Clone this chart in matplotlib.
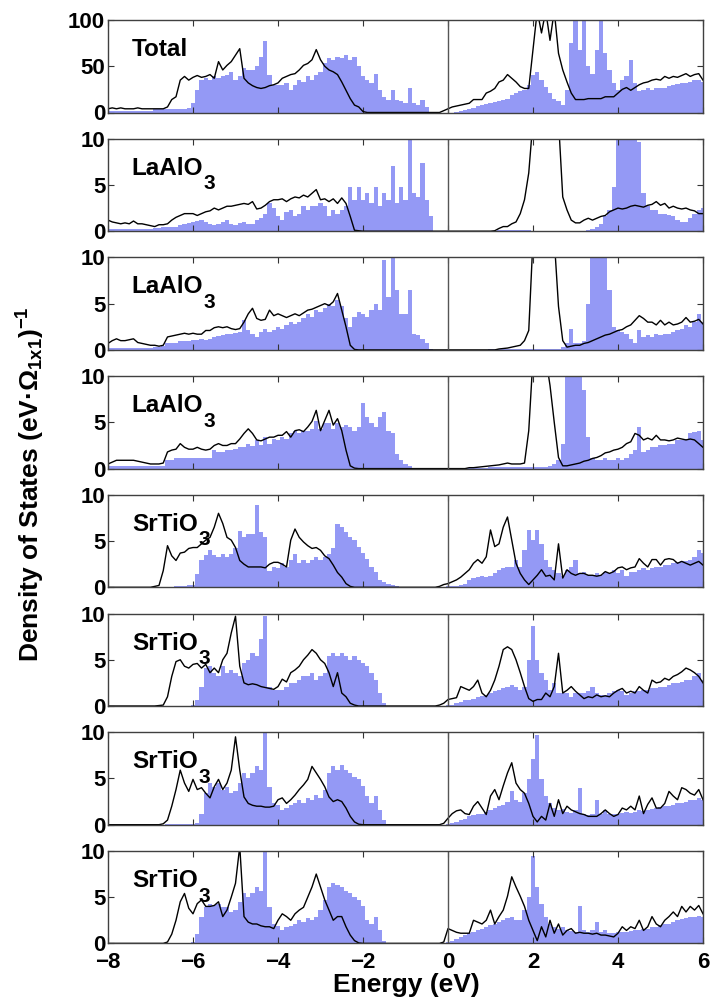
import matplotlib
matplotlib.use("Agg")
import matplotlib.pyplot as plt
import numpy as np

plt.rcParams['font.family'] = ['Liberation Sans', 'DejaVu Sans']
plt.rcParams['font.weight'] = 'bold'
plt.rcParams['mathtext.fontset'] = 'custom'
plt.rcParams['mathtext.rm'] = 'Liberation Sans:bold'
plt.rcParams['mathtext.it'] = 'Liberation Sans:bold'
plt.rcParams['mathtext.bf'] = 'Liberation Sans:bold'
plt.rcParams['ytick.alignment'] = 'center_baseline'

# Energy grid (eV), 0.1 eV spacing from -8 to 6
energy = np.round(np.arange(-8.0, 6.0001, 0.1), 2)

# ---------------- Panel 1: Total ----------------
total_line = [
    4, 5, 4, 5, 4, 4, 4, 5, 4, 4,
    4, 4, 4, 4, 6, 14, 17, 35, 39, 35,
    38, 40, 38, 39, 41, 37, 55, 46, 51, 55,
    62, 69, 37, 32, 29, 27, 26, 27, 29, 30,
    32, 37, 39, 41, 42, 46, 51, 53, 57, 68,
    57, 50, 46, 44, 41, 33, 24, 15, 8, 6,
    1, 0, 0, 0, 0, 0, 0, 0, 0, 0,
    0, 0, 0, 0, 0, 0, 0, 0, 0, 2,
    4, 6, 7, 8, 9, 10, 14, 14, 14, 21,
    23, 26, 33, 35, 41, 37, 33, 28, 26, 26,
    68, 110, 86, 110, 78, 110, 64, 46, 33, 21,
    14, 14, 14, 15, 15, 15, 15, 17, 17, 17,
    21, 25, 27, 24, 27, 30, 32, 33, 35, 36,
    35, 39, 37, 39, 38, 40, 42, 39, 41, 42,
    35]
total_fill = [
    2, 2, 2, 2, 2, 2, 2, 2, 2, 2,
    2, 4, 4, 4, 4, 4, 4, 4, 4, 5,
    10, 24, 35, 37, 35, 39, 37, 39, 41, 44,
    35, 39, 48, 46, 46, 50, 60, 77, 41, 30,
    30, 30, 32, 24, 30, 35, 33, 39, 35, 41,
    44, 53, 59, 57, 60, 59, 62, 57, 60, 50,
    39, 35, 32, 42, 24, 17, 14, 24, 14, 12,
    10, 26, 10, 8, 14, 6, 1, 0, 0, 0,
    0, 0, 1, 2, 3, 4, 5, 7, 8, 9,
    10, 11, 12, 14, 15, 19, 21, 23, 24, 30,
    41, 44, 35, 28, 21, 15, 12, 8, 24, 75,
    110, 68, 110, 50, 42, 68, 110, 64, 46, 32,
    24, 35, 39, 57, 32, 23, 24, 26, 24, 26,
    27, 27, 29, 30, 31, 32, 32, 33, 35, 35,
    33]

# ---------------- Panel 2: LaAlO3 (surface) ----------------
lao1_line = [
    1.2, 1.0, 0.9, 0.8, 0.9, 0.8, 1.1, 0.8, 0.8, 0.7,
    0.6, 0.5, 0.7, 0.7, 0.8, 1.2, 1.5, 1.7, 1.9, 1.9,
    1.9, 1.7, 1.9, 2.1, 2.2, 2.5, 2.3, 2.5, 2.7, 2.7,
    2.8, 2.9, 3.0, 2.9, 3.2, 2.4, 2.5, 2.8, 3.2, 3.4,
    3.4, 3.5, 3.2, 3.5, 3.7, 3.6, 3.9, 3.7, 4.1, 4.5,
    3.4, 3.5, 3.2, 3.5, 3.0, 3.6, 3.0, 1.6, 0.1, 0.05,
    0, 0, 0, 0, 0, 0, 0, 0, 0, 0,
    0, 0, 0, 0, 0, 0, 0, 0, 0, 0,
    0, 0, 0, 0, 0, 0, 0, 0, 0, 0,
    0, 0.05, 0.3, 0.5, 0.5, 0.8, 1.0, 1.9, 3.4, 6.3,
    12, 12, 12, 12, 12, 12, 12, 3.7, 2.3, 1.2,
    0.9, 0.9, 1.2, 1.4, 1.2, 1.4, 1.6, 1.7, 2.1, 2.3,
    2.5, 2.4, 2.5, 2.7, 2.8, 2.7, 2.6, 2.8, 2.9, 3.2,
    2.8, 3.0, 2.5, 2.7, 2.5, 2.4, 2.5, 2.3, 2.2, 1.9,
    1.9]
lao1_fill = [
    0.2, 0.2, 0.2, 0.2, 0.2, 0.2, 0.2, 0.2, 0.2, 0.2,
    0.2, 0.3, 0.3, 0.5, 0.4, 0.5, 0.5, 0.7, 0.8, 0.9,
    1.0, 1.1, 1.2, 1.0, 0.8, 0.7, 0.8, 1.0, 1.2, 0.8,
    0.7, 0.9, 1.0, 0.8, 0.8, 1.2, 1.4, 1.9, 3.0, 2.5,
    1.6, 1.2, 2.1, 2.3, 1.6, 1.9, 2.7, 2.3, 2.7, 2.7,
    3.0, 2.7, 1.6, 2.3, 1.9, 2.3, 2.7, 4.8, 3.4, 4.8,
    3.4, 4.1, 3.0, 4.8, 2.7, 4.1, 3.4, 7.0, 3.0, 4.8,
    3.4, 10, 4.1, 3.7, 7.4, 3.4, 1.6, 0, 0, 0,
    0, 0, 0, 0, 0, 0, 0, 0, 0, 0,
    0, 0.05, 0.1, 0.1, 0.1, 0.1, 0.1, 0.1, 0.1, 0.1,
    0.05, 0.05, 0.05, 0.05, 0.05, 0.05, 0.05, 0.05, 0.05, 0.05,
    0.05, 0.05, 0.05, 0.1, 0.2, 0.5, 0.8, 1.6, 2.3, 4.8,
    10, 10, 10, 10, 10, 9.6, 4.1, 2.7, 2.3, 2.3,
    1.9, 1.9, 1.7, 1.6, 1.2, 1.0, 1.0, 1.4, 1.9, 2.3,
    2.5]

# ---------------- Panel 3: LaAlO3 ----------------
lao2_line = [
    0.7, 1.0, 1.2, 1.0, 1.0, 1.1, 1.2, 0.8, 0.7, 0.6,
    0.5, 0.5, 0.4, 0.5, 1.4, 1.5, 1.6, 1.7, 1.8, 1.7,
    1.8, 1.7, 1.7, 2.1, 2.1, 2.4, 2.5, 2.4, 2.5, 2.3,
    2.2, 2.3, 3.0, 3.9, 4.5, 3.4, 3.2, 3.3, 4.3, 3.7,
    3.9, 3.7, 3.5, 3.7, 3.9, 3.7, 4.0, 4.3, 4.4, 4.6,
    4.8, 5.0, 4.8, 5.2, 6.1, 4.3, 2.5, 0.5, 0.05, 0,
    0, 0, 0, 0, 0, 0, 0, 0, 0, 0,
    0, 0, 0, 0, 0, 0, 0, 0, 0, 0,
    0, 0, 0, 0, 0, 0, 0, 0, 0, 0,
    0, 0, 0.1, 0.15, 0.2, 0.3, 0.4, 0.5, 1.0, 2.1,
    12, 12, 12, 12, 12, 12, 4.7, 1.0, 0.3, 0.4,
    0.5, 0.5, 0.7, 0.8, 1.0, 1.2, 1.4, 1.6, 1.7, 1.9,
    2.1, 2.2, 2.5, 2.7, 3.2, 3.7, 3.4, 3.0, 3.0, 2.7,
    3.2, 2.7, 3.0, 2.7, 2.8, 3.0, 3.5, 3.0, 3.1, 3.3,
    2.8]
lao2_fill = [
    0.2, 0.2, 0.2, 0.2, 0.2, 0.2, 0.2, 0.2, 0.2, 0.2,
    0.2, 0.3, 0.3, 0.4, 0.7, 0.7, 0.8, 1.0, 1.0, 1.0,
    1.1, 1.1, 1.2, 1.1, 1.2, 1.4, 1.5, 1.6, 1.7, 1.7,
    1.8, 1.9, 3.2, 2.1, 1.7, 1.4, 1.9, 2.3, 1.9, 2.1,
    2.5, 2.3, 2.7, 3.0, 2.8, 3.0, 3.4, 3.9, 3.6, 4.3,
    4.1, 4.5, 5.0, 4.8, 5.4, 4.7, 3.4, 2.5, 3.6, 4.1,
    3.9, 3.6, 4.3, 5.0, 4.3, 9.7, 5.7, 10, 6.5, 3.9,
    3.9, 6.5, 1.7, 1.6, 1.2, 0.8, 0.1, 0, 0, 0,
    0, 0, 0, 0, 0, 0, 0, 0, 0, 0,
    0.05, 0.05, 0.05, 0.05, 0.05, 0.05, 0.05, 0.05, 0.05, 0.05,
    0.05, 0.05, 0.05, 0.05, 0.05, 0.1, 0.1, 0.3, 0.7, 2.3,
    0.7, 0.8, 1.0, 5.0, 10, 10, 10, 10, 6.5, 2.5,
    2.1, 1.9, 1.7, 1.2, 0.7, 2.1, 1.4, 1.6, 1.4, 1.7,
    1.6, 1.7, 1.7, 1.9, 2.1, 2.3, 2.7, 2.5, 3.0, 3.9,
    3.0]

# ---------------- Panel 4: LaAlO3 (interface) ----------------
lao3_line = [
    0.5, 0.7, 0.9, 0.9, 0.9, 0.9, 0.9, 0.8, 0.7, 0.6,
    0.5, 0.5, 0.5, 0.6, 1.8, 2.0, 2.1, 2.7, 2.3, 2.1,
    2.1, 2.3, 2.1, 2.0, 2.1, 2.5, 2.7, 2.5, 2.5, 2.7,
    2.7, 3.2, 3.8, 4.3, 3.8, 3.1, 3.0, 3.2, 3.4, 3.4,
    3.6, 3.6, 4.0, 3.4, 4.1, 4.2, 4.0, 4.5, 5.1, 6.3,
    4.1, 5.2, 6.3, 4.7, 5.4, 4.1, 2.0, 0.3, 0.05, 0,
    0, 0, 0, 0, 0, 0, 0, 0, 0, 0,
    0, 0, 0, 0, 0, 0, 0, 0, 0, 0,
    0, 0, 0, 0, 0, 0.1, 0.1, 0.15, 0.2, 0.25,
    0.3, 0.35, 0.4, 0.5, 0.6, 0.5, 0.5, 0.5, 0.6, 4.1,
    12, 12, 12, 12, 9.0, 5.0, 1.2, 0.3, 0.3, 0.4,
    0.5, 0.6, 0.8, 0.9, 1.1, 1.2, 1.4, 1.7, 1.8, 2.0,
    2.1, 2.3, 2.7, 2.9, 3.8, 3.6, 3.1, 3.3, 3.1, 3.6,
    3.1, 3.1, 3.0, 3.1, 3.3, 3.2, 3.1, 3.2, 3.1, 2.7,
    2.3]
lao3_fill = [
    0.3, 0.3, 0.3, 0.3, 0.3, 0.3, 0.3, 0.3, 0.3, 0.3,
    0.3, 0.3, 0.3, 0.3, 0.9, 0.9, 1.1, 1.1, 1.1, 1.1,
    1.1, 1.1, 1.2, 1.2, 1.2, 2.0, 1.8, 1.8, 2.0, 2.0,
    2.1, 2.3, 2.3, 2.7, 2.4, 3.1, 2.5, 3.4, 2.7, 3.2,
    3.1, 3.4, 3.2, 3.8, 4.1, 3.8, 4.1, 4.1, 4.3, 5.2,
    4.3, 4.9, 4.9, 4.3, 4.9, 4.5, 4.7, 4.5, 4.1, 4.5,
    7.1, 5.6, 4.9, 4.5, 5.6, 6.1, 4.1, 3.8, 1.6, 0.9,
    0.5, 0.3, 0.1, 0, 0, 0, 0, 0, 0, 0,
    0, 0, 0, 0, 0, 0.1, 0.1, 0.1, 0.1, 0.1,
    0.15, 0.15, 0.15, 0.15, 0.15, 0.15, 0.15, 0.15, 0.15, 0.15,
    0.15, 0.15, 0.2, 0.2, 0.3, 0.5, 0.9, 2.7, 10, 10,
    10, 10, 8.5, 3.4, 1.2, 0.9, 0.9, 1.1, 0.9, 0.9,
    1.2, 0.9, 1.2, 1.6, 2.0, 4.5, 1.8, 2.0, 2.3, 2.3,
    2.5, 2.5, 2.7, 2.7, 3.1, 3.1, 3.2, 3.8, 4.0, 4.1,
    3.1]

# ---------------- Panel 5: SrTiO3 (interface) ----------------
sto1_line = [
    0, 0, 0, 0, 0, 0, 0, 0, 0, 0,
    0, 0.1, 0.2, 1.8, 4.5, 3.4, 2.9, 3.7, 3.8, 4.2,
    4.3, 4.3, 4.7, 5.1, 5.4, 6.5, 8.0, 6.9, 5.4, 5.1,
    4.3, 2.9, 2.5, 2.2, 2.2, 2.2, 2.2, 2.1, 2.5, 2.7,
    2.7, 2.5, 2.2, 5.1, 6.3, 5.4, 4.9, 4.5, 4.2, 4.3,
    4.0, 3.4, 3.1, 2.4, 1.6, 1.1, 0.4, 0.1, 0, 0,
    0, 0, 0, 0, 0, 0, 0, 0, 0, 0,
    0, 0, 0, 0, 0, 0, 0, 0, 0.1, 0.3,
    0.4, 0.6, 0.8, 1.1, 1.5, 1.9, 2.6, 3.0, 2.6, 3.3,
    6.2, 4.4, 4.7, 6.5, 7.6, 5.1, 2.6, 1.5, 0.8, 0.3,
    0.8, 1.3, 1.9, 1.2, 1.3, 0.8, 4.7, 1.0, 1.9, 1.5,
    1.3, 1.5, 1.5, 1.3, 1.3, 1.2, 1.3, 1.7, 1.5, 1.7,
    2.1, 2.2, 1.9, 2.1, 2.2, 3.1, 2.6, 2.2, 3.0, 3.0,
    2.4, 3.0, 3.1, 3.0, 2.6, 2.8, 2.6, 2.4, 2.6, 2.8,
    2.4]
sto1_fill = [
    0, 0, 0, 0, 0, 0, 0, 0, 0, 0,
    0, 0, 0, 0, 0, 0.05, 0.1, 0.1, 0.1, 0.2,
    0.3, 1.4, 2.9, 3.5, 4.0, 3.5, 3.3, 3.6, 3.3, 3.6,
    4.3, 6.1, 5.4, 5.8, 5.8, 8.9, 6.0, 5.4, 1.8, 2.2,
    2.1, 2.6, 2.2, 2.9, 3.6, 2.6, 2.9, 2.6, 2.9, 3.3,
    2.9, 3.3, 3.6, 4.3, 6.8, 6.5, 6.0, 5.4, 5.1, 4.4,
    3.7, 3.1, 2.2, 1.7, 0.8, 0.6, 0.4, 0.3, 0.1, 0,
    0, 0, 0, 0, 0, 0, 0, 0, 0, 0,
    0.1, 0.1, 0.1, 0.3, 0.4, 0.8, 1.0, 1.1, 1.2, 1.1,
    1.2, 1.5, 1.9, 2.1, 2.2, 2.2, 3.0, 2.2, 4.0, 6.2,
    5.1, 6.2, 4.7, 3.0, 2.2, 1.9, 1.5, 1.2, 1.9, 2.2,
    3.0, 1.5, 1.7, 1.3, 1.3, 1.5, 1.3, 1.7, 1.5, 1.9,
    1.5, 1.9, 1.2, 1.7, 1.7, 1.9, 2.1, 1.9, 2.1, 2.2,
    2.2, 2.4, 2.4, 2.6, 2.7, 2.8, 2.8, 3.0, 3.3, 4.0,
    3.7]

# ---------------- Panel 6: SrTiO3 ----------------
sto2_line = [
    0, 0, 0, 0, 0, 0, 0, 0, 0, 0,
    0, 0, 0.05, 0.1, 1.0, 3.2, 4.8, 5.0, 4.3, 4.1,
    4.5, 4.6, 4.1, 4.5, 3.6, 4.1, 3.6, 5.0, 5.7, 7.9,
    9.7, 4.3, 2.5, 2.3, 2.4, 2.3, 2.1, 2.0, 1.9, 1.8,
    2.1, 2.9, 2.6, 3.6, 3.9, 4.3, 5.0, 5.5, 6.1, 5.7,
    5.0, 4.6, 3.6, 2.1, 3.6, 1.4, 1.0, 0.3, 0.1, 0,
    0, 0, 0, 0, 0, 0, 0, 0, 0, 0,
    0, 0, 0, 0, 0, 0, 0, 0, 0.1, 0.3,
    0.7, 0.8, 0.9, 2.1, 1.9, 1.7, 2.1, 2.8, 1.4, 1.0,
    1.7, 2.8, 4.3, 6.1, 6.4, 6.1, 5.0, 3.6, 2.1, 0.8,
    0.5, 0.7, 0.7, 1.4, 1.0, 2.1, 5.7, 1.4, 1.7, 2.1,
    1.6, 1.2, 0.8, 1.0, 0.9, 1.2, 1.0, 1.1, 1.0, 1.4,
    1.7, 1.9, 1.4, 1.6, 1.4, 2.1, 1.7, 1.4, 2.8, 2.5,
    2.6, 3.0, 2.8, 3.2, 3.4, 3.7, 4.1, 3.9, 3.6, 3.2,
    2.5]
sto2_fill = [
    0, 0, 0, 0, 0, 0, 0, 0, 0, 0,
    0, 0, 0.05, 0.05, 0.05, 0.05, 0.05, 0.05, 0.05, 0.05,
    0.1, 0.7, 2.1, 4.1, 4.3, 3.6, 3.2, 4.3, 3.6, 3.9,
    3.6, 3.2, 4.6, 5.0, 5.7, 5.4, 7.2, 9.7, 2.1, 1.7,
    1.7, 1.7, 2.1, 2.5, 2.5, 2.8, 3.2, 3.2, 3.6, 2.8,
    3.2, 3.6, 5.4, 5.7, 5.4, 5.7, 5.4, 5.0, 5.4, 5.0,
    4.6, 4.3, 3.6, 2.8, 1.4, 0.3, 0.05, 0, 0, 0,
    0, 0, 0, 0, 0, 0, 0, 0, 0, 0,
    0.07, 0.1, 0.3, 0.4, 0.6, 0.7, 0.8, 1.0, 1.1, 1.2,
    1.4, 1.6, 1.7, 1.9, 2.1, 2.3, 2.1, 1.7, 2.1, 5.0,
    8.6, 5.0, 3.6, 2.8, 1.7, 2.5, 1.4, 1.4, 1.4, 1.0,
    1.4, 1.4, 1.4, 1.6, 2.1, 1.4, 1.2, 1.2, 1.4, 1.6,
    1.7, 1.6, 1.2, 1.4, 1.6, 1.6, 1.7, 1.7, 1.9, 1.9,
    2.1, 2.1, 2.3, 2.5, 2.5, 2.6, 2.8, 2.8, 3.2, 3.6,
    2.8]

# ---------------- Panel 7: SrTiO3 ----------------
sto3_line = [
    0, 0, 0, 0, 0, 0, 0, 0, 0, 0,
    0, 0, 0, 0.1, 0.5, 2.0, 3.8, 5.9, 4.5, 3.6,
    4.9, 3.8, 4.0, 3.4, 2.9, 4.1, 4.9, 3.8, 4.5, 5.9,
    9.5, 5.9, 3.0, 2.3, 2.1, 2.0, 2.0, 1.9, 1.9, 2.0,
    2.7, 2.9, 2.3, 2.7, 3.2, 3.8, 4.3, 4.9, 6.3, 5.6,
    4.9, 4.1, 3.0, 2.5, 2.7, 2.5, 1.8, 0.9, 0.3, 0.05,
    0, 0, 0, 0, 0, 0, 0, 0, 0, 0,
    0, 0, 0, 0, 0, 0, 0, 0, 0, 0.15,
    0.7, 1.2, 1.5, 1.6, 1.2, 1.1, 2.0, 2.5, 1.8, 1.1,
    3.1, 3.8, 2.7, 4.2, 5.6, 6.7, 4.5, 3.8, 3.4, 2.3,
    0.9, 0.3, 0.9, 0.5, 2.3, 0.9, 2.7, 1.2, 2.0, 1.6,
    1.4, 1.2, 1.1, 0.9, 0.9, 0.9, 1.2, 1.6, 1.2, 0.9,
    1.1, 1.8, 1.6, 2.0, 1.6, 3.1, 1.2, 2.2, 2.9, 1.8,
    1.8, 2.3, 3.6, 3.1, 2.7, 4.0, 3.8, 3.4, 3.2, 3.8,
    2.7]
sto3_fill = [
    0, 0, 0, 0, 0, 0, 0, 0, 0, 0,
    0, 0, 0, 0, 0.05, 0.05, 0.05, 0.05, 0.05, 0.05,
    0.05, 0.15, 1.2, 3.4, 4.5, 4.1, 4.5, 3.8, 4.1, 3.4,
    3.6, 4.5, 5.6, 5.0, 5.6, 6.3, 5.9, 10, 4.1, 2.3,
    2.1, 1.6, 1.8, 2.1, 2.3, 2.7, 2.3, 2.9, 2.7, 3.2,
    2.9, 3.8, 5.6, 6.3, 5.9, 6.5, 5.9, 5.6, 5.2, 4.9,
    4.2, 3.1, 2.3, 3.1, 1.6, 0.5, 0.1, 0, 0, 0,
    0, 0, 0, 0, 0, 0, 0, 0, 0, 0,
    0.1, 0.2, 0.3, 0.5, 0.6, 0.9, 1.1, 1.2, 1.2, 1.4,
    1.6, 1.8, 2.0, 2.1, 2.5, 3.6, 2.7, 2.5, 3.4, 4.9,
    7.1, 9.7, 4.9, 3.1, 2.3, 1.8, 1.6, 1.7, 1.4, 1.3,
    1.6, 4.0, 1.2, 1.1, 1.2, 2.7, 1.2, 1.6, 1.2, 1.2,
    1.2, 1.3, 1.4, 1.3, 1.4, 1.6, 1.5, 1.6, 1.7, 1.8,
    1.9, 2.0, 2.0, 2.1, 2.3, 2.3, 2.5, 2.7, 2.7, 2.9,
    2.7]

# ---------------- Panel 8: SrTiO3 (bulk-like) ----------------
sto4_line = [
    0, 0, 0, 0, 0, 0, 0, 0, 0, 0,
    0, 0, 0, 0, 0.15, 1.0, 2.5, 4.5, 5.4, 3.8,
    3.2, 4.3, 4.7, 4.0, 4.0, 4.1, 4.5, 2.9, 3.6, 5.0,
    6.5, 10.5, 2.9, 2.3, 2.1, 2.1, 1.9, 1.8, 1.8, 1.6,
    2.5, 3.2, 2.9, 2.5, 3.2, 3.6, 3.9, 5.0, 6.1, 7.5,
    6.1, 4.7, 3.6, 2.5, 2.9, 2.9, 1.8, 0.9, 0.3, 0.05,
    0, 0, 0, 0, 0, 0, 0, 0, 0, 0,
    0, 0, 0, 0, 0, 0, 0, 0, 0, 0.15,
    1.6, 1.4, 1.2, 1.1, 1.1, 1.1, 2.5, 2.3, 2.1, 2.5,
    3.6, 2.1, 2.9, 3.6, 5.1, 7.2, 6.1, 5.1, 4.0, 2.5,
    1.4, 0.3, 1.8, 0.7, 2.5, 1.1, 2.1, 0.9, 1.4, 1.6,
    1.1, 1.2, 1.1, 1.1, 1.0, 1.1, 0.9, 0.9, 0.8, 0.7,
    1.1, 1.8, 1.4, 1.8, 1.6, 2.5, 1.4, 1.8, 2.9, 2.1,
    1.8, 2.5, 2.9, 3.4, 2.9, 4.0, 3.4, 4.0, 3.6, 4.1,
    3.2]
sto4_fill = [
    0, 0, 0, 0, 0, 0, 0, 0, 0, 0,
    0, 0, 0, 0, 0.05, 0.05, 0.05, 0.05, 0.05, 0.05,
    0.15, 1.0, 2.9, 3.9, 4.3, 4.1, 4.3, 3.9, 3.9, 3.4,
    3.6, 4.5, 5.4, 5.0, 5.4, 6.1, 5.7, 10, 3.9, 2.1,
    1.9, 1.4, 1.8, 1.9, 2.1, 2.5, 2.3, 2.7, 2.5, 2.9,
    3.6, 4.7, 6.1, 6.5, 6.3, 6.1, 5.7, 5.4, 5.0, 4.7,
    4.0, 2.5, 2.1, 2.9, 1.4, 0.3, 0.05, 0, 0, 0,
    0, 0, 0, 0, 0, 0, 0, 0, 0, 0,
    0.1, 0.3, 0.5, 0.7, 0.9, 1.1, 1.2, 1.4, 1.6, 1.8,
    2.0, 2.1, 2.3, 2.5, 2.7, 2.9, 2.5, 2.5, 3.6, 5.0,
    9.5, 6.1, 4.3, 2.9, 2.1, 1.8, 1.6, 1.8, 1.4, 1.3,
    1.2, 4.0, 1.4, 1.2, 1.4, 2.3, 1.2, 1.4, 1.1, 1.1,
    1.2, 1.2, 1.2, 1.3, 1.4, 1.5, 1.6, 1.6, 1.8, 1.8,
    2.0, 2.1, 2.1, 2.3, 2.5, 2.6, 2.7, 2.9, 2.9, 3.0,
    2.9]

panel_names = ["Total", "LaAlO", "LaAlO", "LaAlO", "SrTiO", "SrTiO", "SrTiO", "SrTiO"]
panel_subs = ["", "3", "3", "3", "3", "3", "3", "3"]
panel_lines = [total_line, lao1_line, lao2_line, lao3_line,
               sto1_line, sto2_line, sto3_line, sto4_line]
panel_fills = [total_fill, lao1_fill, lao2_fill, lao3_fill,
               sto1_fill, sto2_fill, sto3_fill, sto4_fill]
panel_ymax = [100, 10, 10, 10, 10, 10, 10, 10]
panel_yticks = [[0, 50, 100]] + [[0, 5, 10]] * 7
xticks = [-8, -6, -4, -2, 0, 2, 4, 6]

BLUE = "#9499f5"
W, H = 710.0, 999.0
fig = plt.figure(figsize=(7.1, 9.99), dpi=100)

LABEL_Y = 0.61
for i in range(8):
    top = 20.0 + i * 118.7
    hgt = 92.5
    ax = fig.add_axes([108 / W, 1 - (top + hgt) / H, 595 / W, hgt / H])
    ax.fill_between(energy, panel_fills[i], step='mid', color=BLUE, lw=0, zorder=1)
    ax.plot(energy, panel_lines[i], color='k', lw=1.0, zorder=2)
    ax.axvline(0, color='#555555', lw=1.0, zorder=2.5)
    ax.set_xlim(-8, 6)
    ax.set_ylim(0, panel_ymax[i])
    ax.set_xticks(xticks)
    ax.set_yticks(panel_yticks[i])
    ax.tick_params(direction='in', top=True, right=True, length=4, width=0.8,
                   labelsize=16, colors='#333333', labelcolor='black')
    ax.tick_params(axis='y', pad=2)
    ax.tick_params(axis='x', pad=6)
    if i < 7:
        ax.tick_params(labelbottom=False)
    for s in ax.spines.values():
        s.set_color('#404040')
        s.set_linewidth(1.0)
    t = ax.text(0.04, LABEL_Y, panel_names[i], transform=ax.transAxes,
                fontsize=17.5, fontweight='bold', va='baseline', ha='left', zorder=5)
    if panel_subs[i]:
        ax.annotate(panel_subs[i], xy=(1, LABEL_Y), xycoords=(t, 'axes fraction'),
                    xytext=(0.5, -10.5), textcoords='offset points', fontsize=15,
                    fontweight='bold', va='baseline', ha='left', zorder=5)

fig.text(0.044, 0.5155, 'Density of States (eV·Ω$_{\\mathrm{1x1}}$)$^{\\mathrm{-1}}$',
         rotation=90, ha='center', va='center', fontsize=19, fontweight='bold')
fig.text(0.5725, 0.007, 'Energy (eV)', ha='center', va='baseline',
         fontsize=19, fontweight='bold')

fig.savefig("out.png", dpi=100)
